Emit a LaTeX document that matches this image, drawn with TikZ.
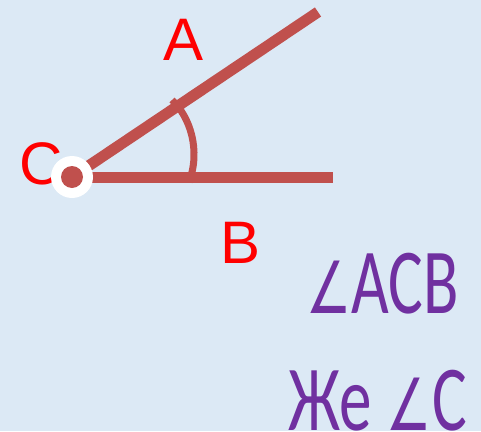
\documentclass[tikz,border=0pt]{standalone}
\usepackage{fontspec}
\setmainfont{Liberation Sans}
\newfontfamily\purfont{Carlito}
\newfontfamily\symfont{DejaVu Sans}
\definecolor{bgblue}{HTML}{DCE9F5}
\definecolor{linered}{HTML}{C0504D}
\definecolor{labred}{HTML}{FF0000}
\definecolor{purp}{HTML}{7030A0}
\tikzset{
  ray/.style={draw=linered, line width=11pt},
  arcline/.style={draw=linered, line width=7pt},
  lab/.style={text=labred, font=\fontsize{60}{60}\selectfont, inner sep=0pt},
  purtext/.style={text=purp, font=\purfont\fontsize{93}{93}\selectfont, inner sep=0pt, xscale=0.7, transform shape}
}
\begin{document}
\begin{tikzpicture}[x=1pt,y=-1pt]
\fill[bgblue] (0,0) rectangle (481,431);
\useasboundingbox (0,0) rectangle (481,431);
\coordinate (C) at (72,177);
\coordinate (A) at (318,12);
\coordinate (B) at (333,177);
\coordinate (arcA) at (172,100);
\coordinate (arcB) at (189,182);
\draw[ray] (C) -- (A);
\draw[ray] (C) -- (B);
\draw[arcline] (arcA) .. controls (190,117) and (201,150) .. (arcB);
\node[lab] (labC) at (41,164) {C};
\fill[white] (C) circle[radius=21];
\fill[linered] (C) circle[radius=11];
\node[lab] (labA) at (184,40) {A};
\node[lab] (labB) at (241,243) {B};
\node[purtext, anchor=base east] (ang1) at (459,313) {{\symfont\fontsize{72}{72}\selectfont ∠}ACB};
\node[purtext, anchor=base east] (ang2) at (467,430) {Же {\symfont\fontsize{72}{72}\selectfont ∠}C};
\end{tikzpicture}
\end{document}
